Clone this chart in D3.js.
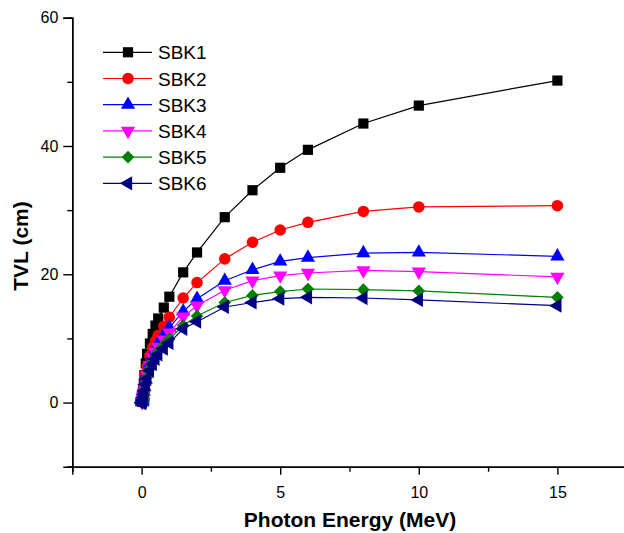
<!DOCTYPE html>
<html>
<head>
<meta charset="utf-8">
<script src="https://d3js.org/d3.v7.min.js"></script>
<style>
  html, body { margin: 0; padding: 0; background: #fff; }
  svg { display: block; font-family: "Liberation Sans", Arial, sans-serif; }
</style>
</head>
<body>
<div id="chart"></div>
<script>
// photon energies (MeV)
const energy = [0.015, 0.02, 0.03, 0.04, 0.05, 0.06, 0.08, 0.1, 0.15, 0.2, 0.3, 0.4, 0.5, 0.6, 0.8, 1, 1.5, 2, 3, 4, 5, 6, 8, 10, 15];

// TVL (cm)
const sbk1 = [0.1, 0.2, 0.5, 0.9, 1.4, 2.0, 3.0, 4.3, 6.1, 7.6, 9.2, 10.7, 12.0, 13.1, 14.8, 16.5, 20.3, 23.4, 28.9, 33.1, 36.6, 39.4, 43.5, 46.3, 50.2];
const sbk2 = [0.05, 0.1, 0.3, 0.6, 0.9, 1.3, 2.0, 2.9, 4.4, 5.7, 7.3, 8.6, 9.6, 10.5, 11.9, 13.3, 16.3, 18.7, 22.4, 25.0, 26.9, 28.1, 29.8, 30.5, 30.7];
const sbk3 = [0.05, 0.1, 0.25, 0.5, 0.8, 1.1, 1.7, 2.4, 3.6, 4.6, 6.2, 7.4, 8.4, 9.3, 10.5, 11.7, 14.2, 16.2, 19.0, 20.7, 22.0, 22.6, 23.3, 23.4, 22.8];
const sbk4 = [0.05, 0.1, 0.2, 0.45, 0.7, 1.0, 1.6, 2.2, 3.3, 4.3, 5.8, 7.0, 7.9, 8.7, 9.8, 10.9, 13.4, 15.1, 17.5, 19.0, 19.8, 20.2, 20.6, 20.4, 19.6];
const sbk5 = [0.0, 0.1, 0.2, 0.4, 0.6, 0.9, 1.4, 2.0, 3.0, 4.0, 5.3, 6.4, 7.3, 8.0, 9.0, 9.9, 12.0, 13.5, 15.6, 16.7, 17.3, 17.7, 17.6, 17.4, 16.4];
const sbk6 = [-0.1, 0.0, 0.1, 0.3, 0.5, 0.8, 1.3, 1.8, 2.8, 3.7, 5.0, 6.0, 6.8, 7.5, 8.4, 9.3, 11.5, 12.6, 14.9, 15.6, 16.2, 16.4, 16.3, 16.0, 15.1];

const seriesNames = ["SBK1", "SBK2", "SBK3", "SBK4", "SBK5", "SBK6"];
const seriesValues = [sbk1, sbk2, sbk3, sbk4, sbk5, sbk6];
const colors = ["#000000", "#ff0000", "#0000ff", "#ff00ff", "#008000", "#000080"];

const xMajor = [0, 5, 10, 15];
const xMinor = [-2.5, 2.5, 7.5, 12.5, 17.5];
const yMajor = [0, 20, 40, 60];
const yMinor = [-10, 10, 30, 50];

const width = 624, height = 533;
const svg = d3.select("#chart").append("svg")
    .attr("width", width)
    .attr("height", height);

const x = d3.scaleLinear().domain([-2.5, 17.5]).range([72.3, 626.7]);
const y = d3.scaleLinear().domain([-10, 60]).range([466.7, 17.7]);

// marker shapes: square, circle, up triangle, down triangle, diamond, left triangle
function markerPath(i) {
    const sq = d3.symbol().type(d3.symbolSquare);
    const tri = d3.symbol().type(d3.symbolTriangle).size(88);
    switch (i) {
        case 0: return { d: sq.size(104)(), rot: 0 };
        case 1: return { d: d3.symbol().type(d3.symbolCircle).size(104)(), rot: 0 };
        case 2: return { d: tri(), rot: 0 };
        case 3: return { d: tri(), rot: 180 };
        case 4: return { d: sq.size(80)(), rot: 45 };
        default: return { d: tri(), rot: -90 };
    }
}

// axes
const xAxis = svg.append("g").attr("transform", `translate(0,${y(-10)})`);
xAxis.call(d3.axisBottom(x).tickValues(xMajor).tickSize(8).tickPadding(12).tickFormat(d3.format("d")));
xAxis.append("g").call(d3.axisBottom(x).tickValues(xMinor).tickSize(5).tickFormat(""));

const yAxis = svg.append("g").attr("transform", `translate(${x(-2.5)},0)`);
yAxis.call(d3.axisLeft(y).tickValues(yMajor).tickSize(9).tickPadding(5).tickFormat(d3.format("d")));
yAxis.append("g").call(d3.axisLeft(y).tickValues(yMinor).tickSize(5).tickFormat(""));

svg.selectAll(".domain").attr("stroke", "#000").attr("stroke-width", 1.4);
svg.selectAll(".tick line").attr("stroke", "#000").attr("stroke-width", 1.4);
svg.selectAll(".tick text")
    .attr("fill", "#000")
    .style("font-size", "16px")
    .style("font-family", "'Liberation Sans', Arial, sans-serif");

// axis titles
svg.append("text")
    .attr("x", 350).attr("y", 527)
    .attr("text-anchor", "middle")
    .style("font-size", "21px").style("font-weight", "bold")
    .text("Photon Energy (MeV)");

svg.append("text")
    .attr("transform", `translate(28,246) rotate(-90)`)
    .attr("text-anchor", "middle")
    .style("font-size", "21px").style("font-weight", "bold")
    .text("TVL (cm)");

// series
const line = d3.line().x(d => x(d[0])).y(d => y(d[1]));

seriesValues.forEach((vals, i) => {
    const pts = energy.map((e, k) => [e, vals[k]]);
    const g = svg.append("g");
    g.append("path")
        .datum(pts)
        .attr("fill", "none")
        .attr("stroke", colors[i])
        .attr("stroke-width", 1.2)
        .attr("d", line);
    const m = markerPath(i);
    g.selectAll("path.mk")
        .data(pts)
        .join("path")
        .attr("class", "mk")
        .attr("d", m.d)
        .attr("fill", colors[i])
        .attr("transform", d => `translate(${x(d[0])},${y(d[1])}) rotate(${m.rot})`);
});

// legend
const legend = svg.append("g");
seriesNames.forEach((name, i) => {
    const ly = 52.3 + i * 26.2;
    legend.append("line")
        .attr("x1", 103).attr("x2", 152)
        .attr("y1", ly).attr("y2", ly)
        .attr("stroke", colors[i]).attr("stroke-width", 1.2);
    const m = markerPath(i);
    legend.append("path")
        .attr("d", m.d)
        .attr("fill", colors[i])
        .attr("transform", `translate(128,${ly}) rotate(${m.rot})`);
    legend.append("text")
        .attr("x", 158).attr("y", ly + 7)
        .style("font-size", "19px")
        .text(name);
});
</script>
</body>
</html>
